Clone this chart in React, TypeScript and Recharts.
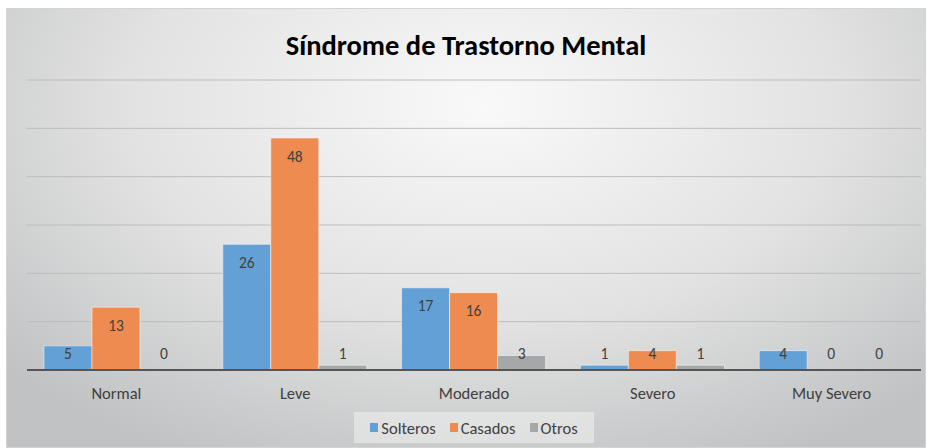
import React from 'react'
import { BarChart, Bar, XAxis, YAxis, CartesianGrid, Legend, LabelList } from 'recharts'

const categories = ['Normal', 'Leve', 'Moderado', 'Severo', 'Muy Severo']
const solteros = [5, 26, 17, 1, 4]
const casados = [13, 48, 16, 4, 0]
const otros = [0, 1, 3, 1, 0]
const yTicks = [0, 10, 20, 30, 40, 50, 60]

const seriesNames = ['Solteros', 'Casados', 'Otros']
const seriesColors = ['#63a0d5', '#ee8b51', '#a6a7a8']

const FONT = 'Carlito, Lato, "Noto Sans", sans-serif'

const data = categories.map((name, i) => ({
  name,
  Solteros: solteros[i],
  Casados: casados[i],
  Otros: otros[i],
}))

// etiqueta dentro del extremo, o justo encima de la base si la barra es baja
const renderLabel = (props: any) => {
  const { x, y, width, height, value } = props
  const h = Number(height) || 0
  const cy = Math.min(y + 18, y + h - 17)
  return (
    <text
      x={x + width / 2}
      y={cy}
      textAnchor="middle"
      dominantBaseline="central"
      fontSize={15.5}
      fill="#404040"
      fontFamily={FONT}
    >
      {value}
    </text>
  )
}

const renderLegend = () => (
  <div style={{ height: 37, display: 'flex', justifyContent: 'center' }}>
    <div
      style={{
        marginTop: 2,
        height: 31,
        padding: '0 16px',
        background: 'rgba(240,240,240,0.55)',
        display: 'flex',
        alignItems: 'center',
        gap: 14,
        fontFamily: FONT,
        fontSize: 16.5,
        color: '#404040',
      }}
    >
      {seriesNames.map((s, i) => (
        <span key={s} style={{ display: 'flex', alignItems: 'center' }}>
          <span style={{ width: 8, height: 9, background: seriesColors[i], marginRight: 3, display: 'inline-block' }} />
          {s}
        </span>
      ))}
    </div>
  </div>
)

export default function App() {
  return (
    <div
      style={{
        position: 'absolute',
        left: 6,
        top: 8,
        width: 920,
        height: 440,
        boxSizing: 'border-box',
        border: '1px solid #d4d4d4',
        background: 'radial-gradient(ellipse 70% 90% at 52% 22%, #f9f9f9 0%, #e2e2e2 55%, #c0c2c3 100%)',
      }}
    >
      <div
        style={{
          position: 'absolute',
          top: 19,
          left: 0,
          width: '100%',
          textAlign: 'center',
          fontFamily: FONT,
          fontWeight: 'bold',
          fontSize: 28.5,
          color: '#000',
        }}
      >
        Síndrome de Trastorno Mental
      </div>
      <BarChart
        width={918}
        height={438}
        data={data}
        margin={{ top: 71, right: 4, left: 20, bottom: 0 }}
        barCategoryGap="9.5%"
        barGap={0}
      >
        <CartesianGrid vertical={false} stroke="#bcbcbc" />
        <YAxis hide domain={[0, 60]} ticks={yTicks} />
        <XAxis
          dataKey="name"
          height={40}
          tickLine={false}
          tickMargin={11}
          axisLine={{ stroke: '#555555', strokeWidth: 2 }}
          tick={{ fontSize: 16.5, fill: '#404040', fontFamily: FONT }}
        />
        <Legend verticalAlign="bottom" content={renderLegend} />
        {seriesNames.map((s, i) => (
          <Bar
            key={s}
            dataKey={s}
            fill={seriesColors[i]}
            stroke="#ffffff"
            strokeOpacity={0.5}
            minPointSize={0.1}
            isAnimationActive={false}
          >
            <LabelList dataKey={s} content={renderLabel} />
          </Bar>
        ))}
      </BarChart>
    </div>
  )
}
